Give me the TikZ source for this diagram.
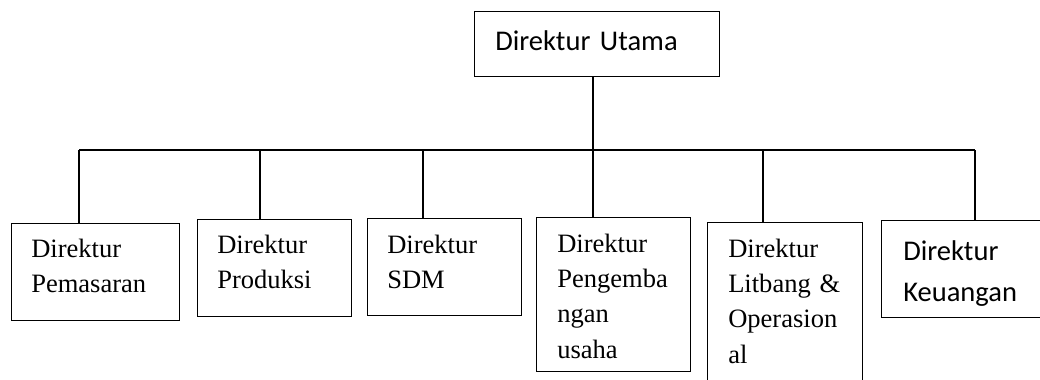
\documentclass[tikz,border=0pt]{standalone}
\usepackage{fontspec}
\setmainfont{Liberation Serif}
\newfontfamily\calibri{Carlito}
\tikzset{
  box/.style={draw, line width=0.85pt, inner sep=0pt, anchor=north west},
  serif label/.style={anchor=base west, inner sep=0pt, text width=130pt, align=left,
    font=\fontsize{19.9}{26.6}\selectfont},
  sans label/.style={anchor=base west, inner sep=0pt, text width=150pt, align=left,
    font=\calibri\fontsize{21.4}{30.8}\selectfont},
  link/.style={line width=0.85pt}
}
\begin{document}
\begin{tikzpicture}[x=0.75pt,y=0.75pt,yscale=-1,xscale=1]
\useasboundingbox (0,0) rectangle (1040,379);

%Boxes
\node[box, minimum width=245*0.75pt, minimum height=65*0.75pt] (utama) at (474,11) {};
\node[box, minimum width=168*0.75pt, minimum height=97*0.75pt] (pemasaran) at (11,223) {};
\node[box, minimum width=154*0.75pt, minimum height=97*0.75pt] (produksi) at (197,219) {};
\node[box, minimum width=154*0.75pt, minimum height=97*0.75pt] (sdm) at (367,218) {};
\node[box, minimum width=154*0.75pt, minimum height=154*0.75pt] (usaha) at (536,217) {};
\node[box, minimum width=155*0.75pt, minimum height=170*0.75pt] (litbang) at (707,222) {};
\node[box, minimum width=170*0.75pt, minimum height=97*0.75pt] (keuangan) at (881,220) {};

% Text Node
\node[sans label] (tutama) at (495,50) {Direktur Utama};
\node[serif label] (tpemasaran) at (31,257) {Direktur\\Pemasaran};
\node[serif label] (tproduksi) at (217,253) {Direktur\\Produksi};
\node[serif label] (tsdm) at (387,253) {Direktur\\SDM};
\node[serif label] (tusaha) at (557,252) {Direktur\\Pengemba\\ngan\\usaha};
\node[serif label] (tlitbang) at (728,257) {Direktur\\Litbang \&\\Operasion\\al};
\node[sans label] (tkeuangan) at (903,260) {Direktur\\Keuangan};

%Bus line
\coordinate (b1) at (79,150);
\coordinate (b2) at (260,150);
\coordinate (b3) at (423,150);
\coordinate (b4) at (593,150);
\coordinate (b5) at (763,150);
\coordinate (b6) at (975,150);
\draw[link] (b1) -- (b6);
\draw[link] (b4 |- utama.south) -- (b4) -- (b4 |- usaha.north);
\draw[link] (b1) -- (b1 |- pemasaran.north);
\draw[link] (b2) -- (b2 |- produksi.north);
\draw[link] (b3) -- (b3 |- sdm.north);
\draw[link] (b5) -- (b5 |- litbang.north);
\draw[link] (b6) -- (b6 |- keuangan.north);

\end{tikzpicture}
\end{document}
